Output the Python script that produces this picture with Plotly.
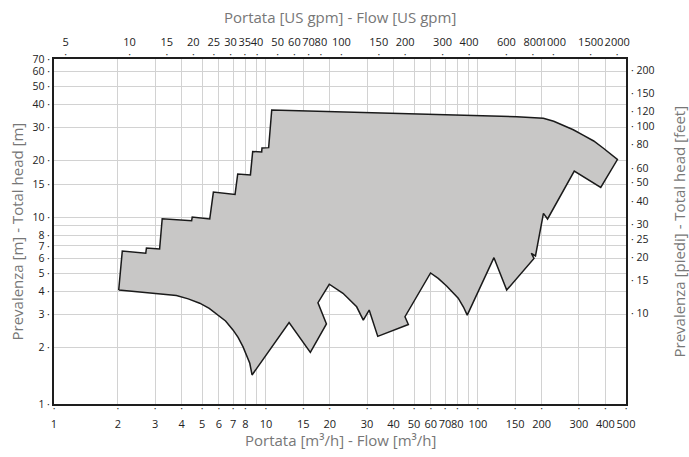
import math
import plotly.graph_objects as go

# ---- data: outline of the pump operating range (flow m3/h, head m) ----
flow_m3h = [2.02, 2.10, 2.71, 2.73, 3.15, 3.24, 4.46, 4.49, 5.43, 5.65, 7.15, 7.36, 8.45, 8.66,
            9.55, 9.58, 10.3, 10.65, 152.5, 176.0, 203.7, 228.0, 252.4, 282.0, 313.7, 352.0,
            389.9, 430.0, 455.5, 380.0,
            285.0, 213.2, 203.9, 187.0, 178.7, 184.0, 136.8, 119.1, 89.1, 85.5, 80.8, 71.2, 65.0,
            59.8, 45.3, 47.0, 33.7, 30.7, 28.8, 26.8, 23.1, 19.9, 17.6, 19.3, 16.2, 12.86, 8.60,
            8.39, 8.12, 7.80, 7.39, 6.99, 6.45, 5.84, 5.40, 4.87, 4.30, 3.78, 2.02]
head_m = [4.07, 6.58, 6.40, 6.83, 6.74, 9.79, 9.55, 10.0, 9.76, 13.6, 13.2, 17.0, 16.8, 22.4,
          22.3, 23.4, 23.5, 37.4, 34.4, 34.2, 33.7, 32.5, 31.0, 29.3, 27.4, 25.5,
          23.4, 21.5, 20.3, 14.4,
          17.6, 9.76, 10.46, 6.19, 6.40, 6.0, 4.07, 6.06, 2.99, 3.30, 3.68, 4.28, 4.70,
          5.02, 2.93, 2.66, 2.30, 3.18, 2.81, 3.31, 3.91, 4.37, 3.48, 2.68, 1.89, 2.73, 1.43,
          1.65, 1.82, 2.02, 2.27, 2.49, 2.78, 3.05, 3.25, 3.46, 3.65, 3.80, 4.07]

# ---- axis ticks ----
x_ticks = [1, 2, 3, 4, 5, 6, 7, 8, 9, 10, 15, 20, 30, 40, 50, 60, 70, 80, 90, 100,
           150, 200, 300, 400, 500]
x_unlabeled = [9, 90]
y_ticks = [1, 2, 3, 4, 5, 6, 7, 8, 9, 10, 15, 20, 30, 40, 50, 60, 70]
y_unlabeled = [9]
gpm_ticks = [5, 10, 15, 20, 25, 30, 35, 40, 50, 60, 70, 80, 100, 150, 200, 300, 400,
             600, 800, 1000, 1500, 2000]
feet_ticks = [10, 15, 20, 25, 30, 40, 50, 60, 80, 100, 120, 150, 200]

GPM_PER_M3H = 4.40287
FT_PER_M = 3.28084
X_MIN, X_MAX = 1, 500
Y_MIN, Y_MAX = 1, 70

FONT = "Open Sans"
TICK_FONT = dict(family=FONT, size=11, color="#222")
Y_TICK_FONT = dict(family=FONT, size=10.5, color="#222")
DOT_FONT = dict(family=FONT, size=6, color="#333")
TITLE_FONT = dict(family=FONT, size=15, color="#777")
GRID = "#d2d2d2"
FRAME = "#1e1e1e"

x_range = [math.log10(X_MIN), math.log10(X_MAX)]
y_range = [math.log10(Y_MIN), math.log10(Y_MAX)]
gpm_range = [math.log10(X_MIN * GPM_PER_M3H), math.log10(X_MAX * GPM_PER_M3H)]
ft_range = [math.log10(Y_MIN * FT_PER_M), math.log10(Y_MAX * FT_PER_M)]

fig = go.Figure()
fig.add_trace(go.Scatter(
    x=flow_m3h, y=head_m, mode="lines", fill="toself",
    fillcolor="#c8c7c6", line=dict(color="#1a1a1a", width=1.5),
    hoverinfo="skip", showlegend=False,
))
# invisible helper traces so the secondary (US units / tick-dot) axes are drawn
invisible = dict(mode="markers", marker=dict(opacity=0), hoverinfo="skip", showlegend=False)
fig.add_trace(go.Scatter(x=[X_MIN * GPM_PER_M3H, X_MAX * GPM_PER_M3H],
                         y=[Y_MIN * FT_PER_M, Y_MAX * FT_PER_M],
                         xaxis="x2", yaxis="y2", **invisible))
fig.add_trace(go.Scatter(x=[X_MIN, X_MAX], y=[Y_MIN, Y_MAX], xaxis="x3", yaxis="y", **invisible))
fig.add_trace(go.Scatter(x=[X_MIN * GPM_PER_M3H, X_MAX * GPM_PER_M3H], y=[Y_MIN, Y_MAX],
                         xaxis="x4", yaxis="y", **invisible))

x_lab_vals = [v for v in x_ticks if v not in x_unlabeled]
x_text = ["" if v in x_unlabeled else str(v) for v in x_ticks]
y_text = ["" if v in y_unlabeled else str(v) + " ·" for v in y_ticks]
ft_text = ["· " + str(v) for v in feet_ticks]

common = dict(type="log", ticks="", zeroline=False, automargin=False)

fig.update_layout(
    width=689, height=457,
    margin=dict(l=54, r=63, t=59, b=53),
    paper_bgcolor="white", plot_bgcolor="white",
    font=dict(family=FONT),
    xaxis=dict(
        range=x_range, tickmode="array", tickvals=x_ticks, ticktext=x_text, tickangle=0,
        tickfont=TICK_FONT, showgrid=True, gridcolor=GRID, gridwidth=1,
        showline=True, linecolor=FRAME, linewidth=2, mirror=True,
        ticklabelstandoff=9, **common,
    ),
    yaxis=dict(
        range=y_range, tickmode="array", tickvals=y_ticks, ticktext=y_text,
        tickfont=Y_TICK_FONT, showgrid=True, gridcolor=GRID, gridwidth=1,
        showline=True, linecolor=FRAME, linewidth=2, mirror=True, **common,
    ),
    xaxis2=dict(
        overlaying="x", side="top", anchor="y", range=gpm_range,
        tickmode="array", tickvals=gpm_ticks, ticktext=[str(v) for v in gpm_ticks],
        tickangle=0, tickfont=TICK_FONT, showgrid=False, showline=False,
        ticklabelstandoff=10, **common,
    ),
    yaxis2=dict(
        overlaying="y", side="right", anchor="x", range=ft_range,
        tickmode="array", tickvals=feet_ticks, ticktext=ft_text,
        tickfont=Y_TICK_FONT, showgrid=False, showline=False,
        ticklabelstandoff=4, **common,
    ),
    # tick dots of the bottom (m3/h) axis
    xaxis3=dict(
        overlaying="x", side="bottom", anchor="y", range=x_range,
        tickmode="array", tickvals=x_lab_vals, ticktext=["•"] * len(x_lab_vals),
        tickangle=0, tickfont=DOT_FONT, showgrid=False, showline=False,
        ticklabelstandoff=0, **common,
    ),
    # tick dots of the top (US gpm) axis
    xaxis4=dict(
        overlaying="x", side="top", anchor="y", range=gpm_range,
        tickmode="array", tickvals=gpm_ticks, ticktext=["•"] * len(gpm_ticks),
        tickangle=0, tickfont=DOT_FONT, showgrid=False, showline=False,
        ticklabelstandoff=0, **common,
    ),
    annotations=[
        dict(text="Portata [US gpm] - Flow [US gpm]", xref="paper", yref="paper",
             x=0.5, y=1, yshift=42, xanchor="center", yanchor="middle",
             showarrow=False, font=TITLE_FONT),
        dict(text="Portata [m³/h] - Flow [m³/h]", xref="paper", yref="paper",
             x=0.5, y=0, yshift=-36, xanchor="center", yanchor="middle",
             showarrow=False, font=TITLE_FONT),
        dict(text="Prevalenza [m] - Total head [m]", xref="paper", yref="paper",
             x=0, y=0.5, xshift=-38, xanchor="center", yanchor="middle",
             textangle=-90, showarrow=False, font=TITLE_FONT),
        dict(text="Prevalenza [piedi] - Total head [feet]", xref="paper", yref="paper",
             x=1, y=0.5, xshift=52, xanchor="center", yanchor="middle",
             textangle=-90, showarrow=False, font=TITLE_FONT),
    ],
)

fig.write_html("out.html", config={"displayModeBar": False},
               post_script="document.body.style.margin='0px';")
